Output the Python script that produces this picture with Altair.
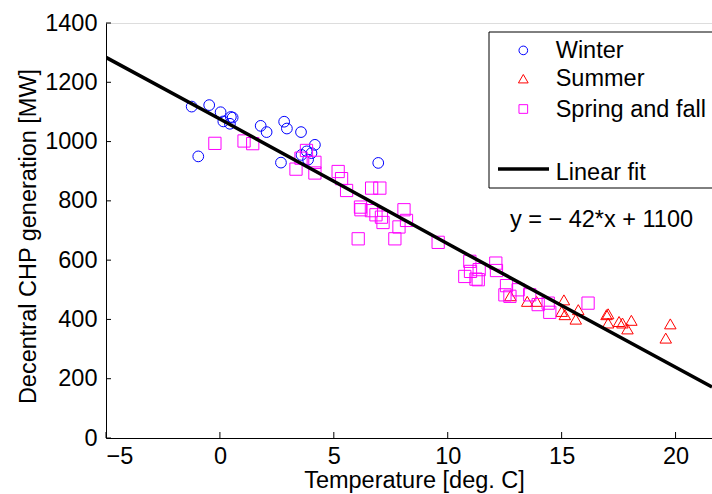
import altair as alt
import pandas as pd

# ---- data ----
winter_t = [-1.24, -0.47, 0.03, 0.15, 0.48, 0.56, 0.44, 1.79, 2.05, 2.82, 2.94, 3.56,
            -0.95, 4.17, 2.68, 6.95, 3.81, 4.02, 3.87, 3.58]
winter_p = [1118, 1123, 1099, 1068, 1083, 1081, 1060, 1053, 1032, 1067, 1044, 1032,
            950, 989, 929, 928, 967, 961, 939, 955]

summer_t = [12.75, 13.49, 13.90, 15.10, 15.00, 15.14, 15.73, 15.62, 16.97, 17.04,
            17.04, 17.52, 17.67, 18.06, 17.89, 19.77, 19.57]
summer_p = [480, 461, 461, 466, 427, 416, 433, 401, 416, 419,
            388, 393, 388, 397, 368, 385, 337]

spring_t = [-0.22, 1.06, 1.44, 3.80, 3.56, 4.17, 3.34, 4.17, 5.19, 5.34, 5.56, 6.66, 7.02,
            6.17, 6.19, 6.65, 6.85, 7.09, 7.16, 8.08, 7.86, 8.19, 6.07, 7.68, 9.58,
            10.97, 10.75, 11.00, 11.38, 11.34, 11.24, 12.11, 12.14, 12.58, 12.51, 12.73,
            13.09, 13.60, 13.97, 14.41, 14.48, 16.16]
spring_p = [994, 1002, 993, 970, 944, 930, 907, 894, 899, 875, 835, 843, 843,
            779, 770, 767, 753, 745, 727, 770, 712, 734, 672, 672, 660,
            596, 545, 562, 568, 534, 536, 590, 565, 514, 483, 478,
            500, 483, 450, 455, 424, 455]

fit_t = [-5, 0, 5, 10, 15, 21.6]
fit_p = [1284, 1076, 866, 655, 447, 172]

x_ticks = [-5, 0, 5, 10, 15, 20]
y_ticks = [0, 200, 400, 600, 800, 1000, 1200, 1400]

seasons = ["Winter", "Summer", "Spring and fall"]
season_colors = ["#0000ff", "#ff0000", "#ff00ff"]
season_shapes = ["circle", "triangle-up", "square"]

FONT = "Liberation Sans"
FS = 23.5
W, H = 606, 415

pts = pd.DataFrame({
    "t": winter_t + summer_t + spring_t,
    "p": winter_p + summer_p + spring_p,
    "s": ["Winter"] * len(winter_t) + ["Summer"] * len(summer_t)
         + ["Spring and fall"] * len(spring_t),
})
fit = pd.DataFrame({"t": fit_t, "p": fit_p})

xscale = alt.Scale(domain=[-5, 21.6], nice=False, zero=False)
yscale = alt.Scale(domain=[0, 1400], nice=False)

xaxis = alt.Axis(values=x_ticks, grid=False, ticks=False, tickSize=0, labelPadding=6,
                 labelFont=FONT, labelFontSize=FS, labelColor="black",
                 title="Temperature [deg. C]", titleFont=FONT, titleFontSize=FS,
                 titleFontWeight="normal", titleColor="black", titlePadding=1,
                 titleX=308, domainColor="black", domainWidth=1)
yaxis = alt.Axis(values=y_ticks, format="d", grid=False, ticks=False, tickSize=0, labelPadding=9,
                 labelFont=FONT, labelFontSize=FS, labelColor="black",
                 title="Decentral CHP generation [MW]", titleFont=FONT, titleFontSize=FS,
                 titleFontWeight="normal", titleColor="black", titlePadding=4,
                 titleY=213, domainColor="black", domainWidth=1)

scatter = alt.Chart(pts).mark_point(filled=False, strokeWidth=1, opacity=1).encode(
    x=alt.X("t:Q", scale=xscale, axis=xaxis),
    y=alt.Y("p:Q", scale=yscale, axis=yaxis),
    color=alt.Color("s:N", scale=alt.Scale(domain=seasons, range=season_colors), legend=None),
    shape=alt.Shape("s:N", scale=alt.Scale(domain=seasons, range=season_shapes), legend=None),
    size=alt.Size("s:N", scale=alt.Scale(domain=seasons, range=[115, 150, 115]), legend=None),
)

line = alt.Chart(fit).mark_line(color="black", strokeWidth=3.5, clip=True).encode(
    x=alt.X("t:Q", scale=xscale),
    y=alt.Y("p:Q", scale=yscale),
)

xt = alt.Chart(pd.DataFrame({"v": x_ticks})).mark_rule(color="black", strokeWidth=1).encode(
    x=alt.X("v:Q", scale=xscale), y=alt.value(H), y2=alt.value(H - 6))
yt = alt.Chart(pd.DataFrame({"v": y_ticks})).mark_rule(color="black", strokeWidth=1).encode(
    y=alt.Y("v:Q", scale=yscale), x=alt.value(0), x2=alt.value(5))

# ---- legend (drawn as annotation) ----
box = alt.Chart(pd.DataFrame({"a": [0]})).mark_rect(
    fill="white", stroke="black", strokeWidth=1).encode(
    x=alt.value(383), x2=alt.value(615), y=alt.value(9), y2=alt.value(165))

leg_y = [27.4, 55.7, 86.0]
leg_syms = []
for name, col, shp, yy, sz in zip(seasons, season_colors, season_shapes, leg_y, [75, 95, 75]):
    leg_syms.append(alt.Chart(pd.DataFrame({"a": [0]})).mark_point(
        shape=shp, color=col, filled=False, strokeWidth=1, size=sz, opacity=1).encode(
        x=alt.value(417.3), y=alt.value(yy)))
    leg_syms.append(alt.Chart(pd.DataFrame({"a": [0]})).mark_text(
        text=name, font=FONT, fontSize=FS, align="left", baseline="middle", color="black").encode(
        x=alt.value(449.7), y=alt.value(yy + 0.5)))

leg_line = alt.Chart(pd.DataFrame({"a": [0]})).mark_rule(color="black", strokeWidth=3.5).encode(
    x=alt.value(392), x2=alt.value(443), y=alt.value(146))
leg_line_txt = alt.Chart(pd.DataFrame({"a": [0]})).mark_text(
    text="Linear fit", font=FONT, fontSize=FS, align="left", baseline="middle", color="black").encode(
    x=alt.value(449.7), y=alt.value(150))

eq = alt.Chart(pd.DataFrame({"a": [0]})).mark_text(
    text="y = \u2212 42*x + 1100", font=FONT, fontSize=FS, align="center",
    baseline="middle", color="black").encode(x=alt.value(495.5), y=alt.value(197.4))

chart = alt.layer(scatter, line, xt, yt, box, *leg_syms, leg_line, leg_line_txt, eq).properties(
    width=W, height=H,
    autosize=alt.AutoSizeParams(type="none"),
    padding={"left": 106, "top": 23, "right": 0, "bottom": 56},
).configure_view(strokeWidth=0).configure(background="white")

chart.save("out.html", embed_options={"renderer": "svg", "actions": False})
